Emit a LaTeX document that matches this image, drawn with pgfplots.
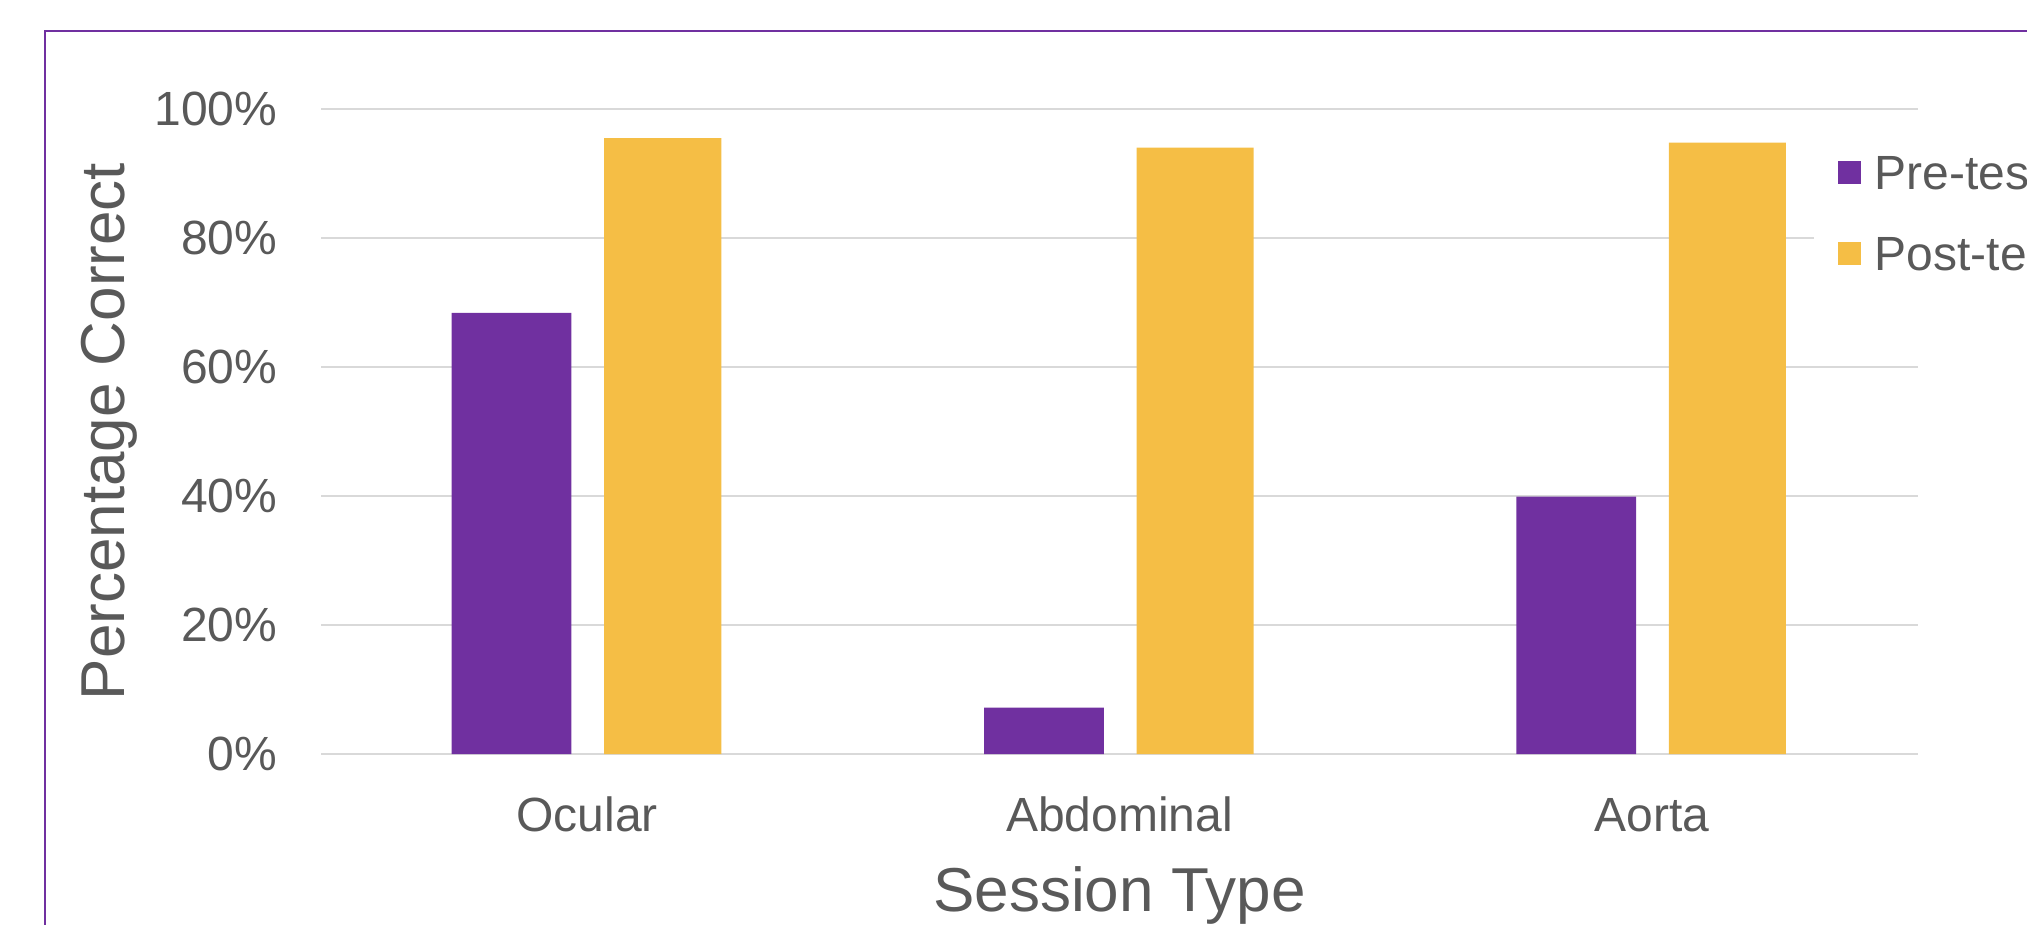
\documentclass[border=0pt]{standalone}
\usepackage{pgfplots}
\pgfplotsset{compat=1.18}
\usepackage{fontspec}
\setmainfont{Liberation Sans}
\definecolor{barpurple}{HTML}{7030A0}
\definecolor{barorange}{HTML}{F5BE45}
\definecolor{gridgray}{HTML}{D9D9D9}
\definecolor{txtgray}{HTML}{595959}
\definecolor{framepurple}{HTML}{7030A0}

\begin{document}
\begin{tikzpicture}
\path[use as bounding box] (0,0) rectangle (506.75pt,231pt);
\clip (0,0) rectangle (506.75pt,231pt);
\draw[framepurple, line width=0.45pt] (11.25pt,-20pt) -- (11.25pt,223.25pt) -- (530pt,223.25pt);
\begin{axis}[
  at={(80.25pt,42.5pt)}, anchor=south west,
  scale only axis, width=399.25pt, height=161.25pt,
  xmin=-0.5, xmax=2.5, ymin=0, ymax=100,
  xtick={0,1,2}, xticklabels={Ocular,Abdominal,Aorta},
  ytick={0,20,40,60,80,100}, yticklabels={0\%,20\%,40\%,60\%,80\%,100\%},
  axis line style={draw=none},
  major tick length=0pt,
  ymajorgrids, xmajorgrids=false,
  grid style={gridgray, line width=0.6pt},
  tick label style={font=\fontsize{12}{14}\selectfont, text=txtgray, inner sep=0pt},
  xticklabel style={anchor=base, yshift=-19.4pt},
  yticklabel style={anchor=east, xshift=-10.75pt},
  xlabel={Session Type}, ylabel={Percentage Correct},
  label style={font=\fontsize{15.5}{18}\selectfont, text=txtgray, inner sep=0pt},
  xlabel style={at={(axis description cs:0.5,0)}, anchor=base, yshift=-39.25pt},
  ylabel style={at={(axis description cs:-0.123,0.5)}, anchor=base},
  legend style={at={(rel axis cs:0.9343,0.9667)}, anchor=north west,
    draw=none, fill=white, inner xsep=6pt, inner ysep=6pt,
    row sep=11.6pt, column sep=3.5pt,
    font=\fontsize{12}{14}\selectfont, text=txtgray,
    nodes={inner sep=0pt, text height=8.6pt, text depth=0pt},
    cells={anchor=west}},
]
\addplot[ybar, bar width=0.225, bar shift=-0.142, fill=barpurple, draw=none,
  legend image code/.code={\fill[barpurple] (0pt,-2.875pt) rectangle (5.75pt,2.875pt);}]
  coordinates {(0,68.4) (1,7.2) (2,39.9)};
\addlegendentry{Pre-test}
\addplot[ybar, bar width=0.22, bar shift=0.142, fill=barorange, draw=none,
  legend image code/.code={\fill[barorange] (0pt,-2.875pt) rectangle (5.75pt,2.875pt);}]
  coordinates {(0,95.5) (1,94.0) (2,94.8)};
\addlegendentry{Post-test}
\end{axis}
\end{tikzpicture}
\end{document}
